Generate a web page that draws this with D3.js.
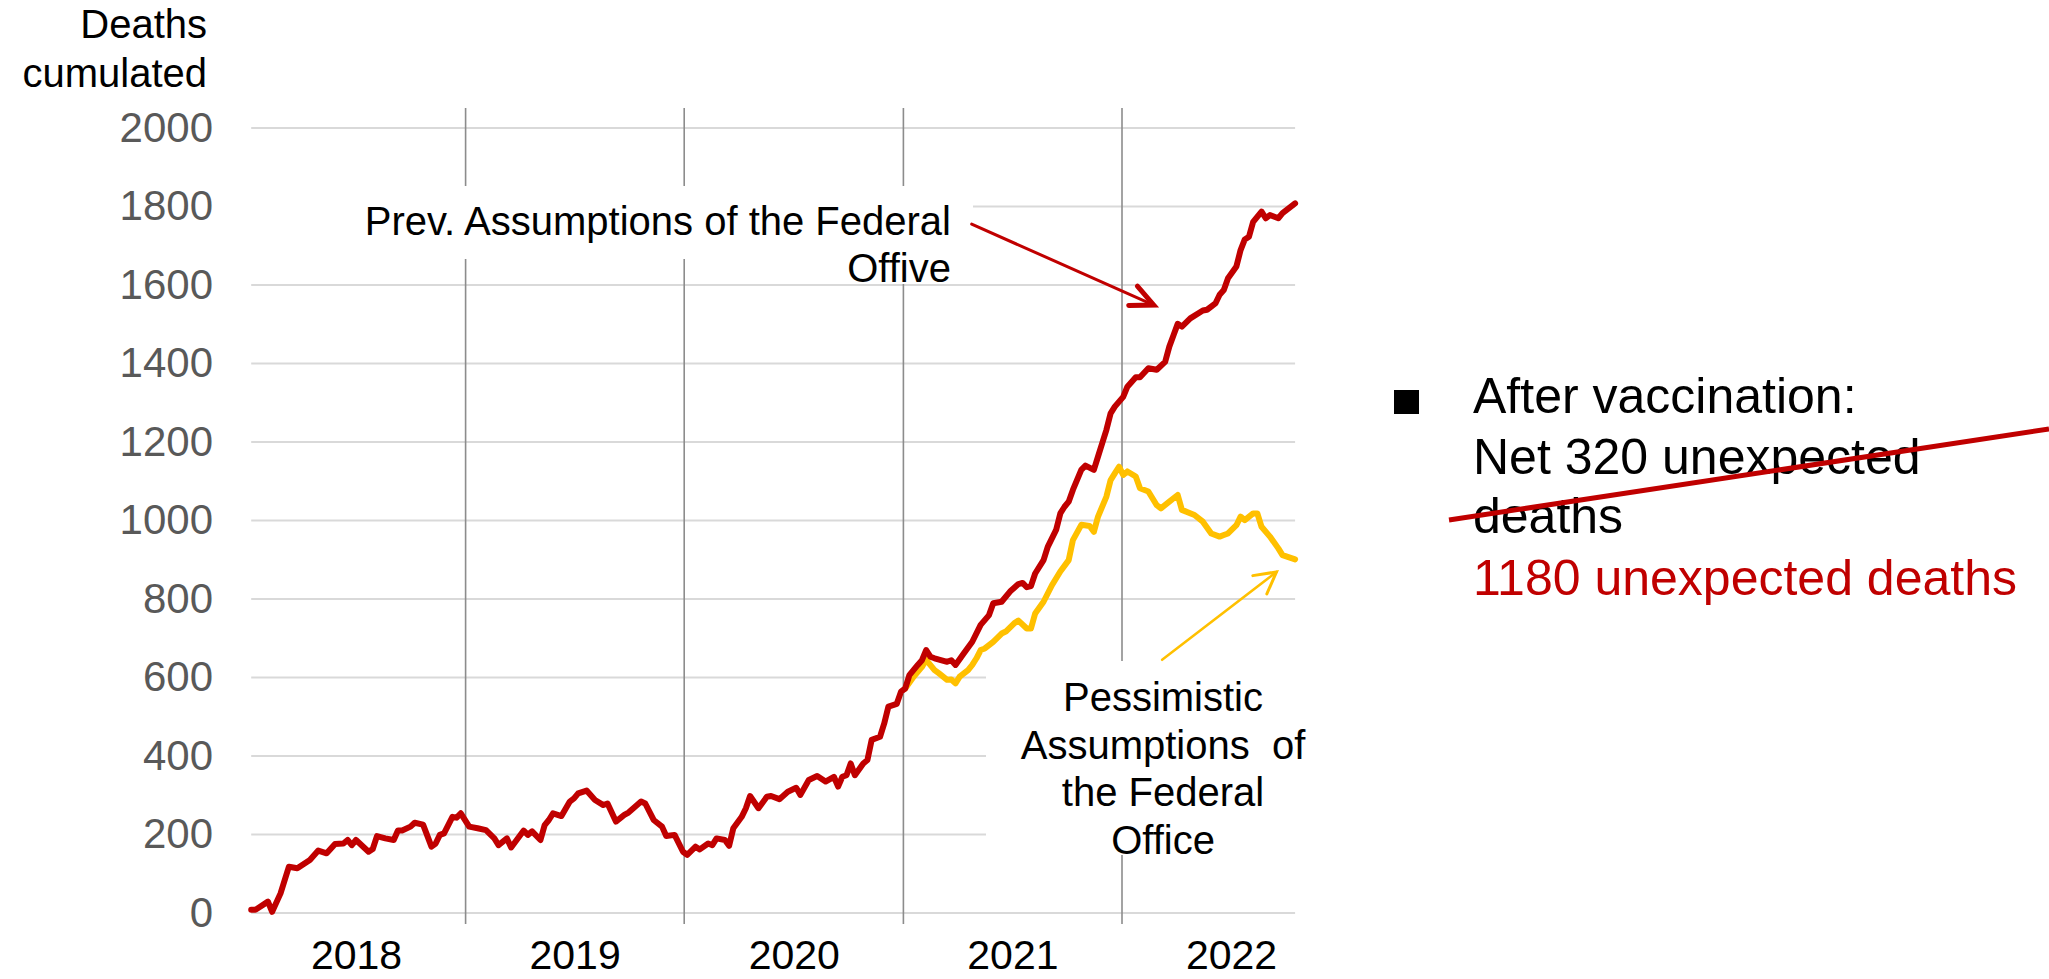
<!DOCTYPE html>
<html>
<head>
<meta charset="utf-8">
<script src="https://cdn.jsdelivr.net/npm/d3@7"></script>
<style>
  body { margin: 0; background: #fff; }
  svg { display: block; font-family: "Liberation Sans", Arial, sans-serif; }
</style>
</head>
<body>
<svg id="chart" width="2049" height="979"></svg>
<script>
// week numbers counted from Mon 2018-01-01, cumulated deaths
var prevWeeks = [1,2,5,6,8,10,12,15,17,19,21,23,24,25,26,29,30,31,33,35,36,37,39,40,42,44,45,46,47,49,50,51,53,55,57,59,60,62,63,66,67,68,70,71,72,73,75,77,78,79,81,83,85,86,88,90,91,94,95,97,99,100,102,104,105,107,108,110,111,112,114,115,116,118,119,120,122,124,125,127,129,131,132,134,136,138,140,141,142,143,144,145,147,148,149,151,152,153,155,156,157,158,160,161,162,163,164,167,168,169,171,173,175,177,178,180,182,184,185,186,187,188,190,191,193,194,195,196,197,199,200,202,203,204,205,206,207,209,210,212,213,215,217,219,220,221,222,223,225,228,229,231,232,233,234,236,237,238,239,240,242,243,244,246,247,250];
var prevDeaths = [8,8,29,3,50,118,114,135,159,152,176,177,186,173,186,156,163,196,190,186,210,210,220,230,225,169,177,199,203,245,243,254,220,216,211,190,173,190,167,210,199,208,186,224,237,254,247,284,292,305,312,288,275,279,233,250,256,284,279,237,220,196,199,156,148,169,162,177,173,190,186,171,216,245,267,298,267,296,298,290,309,319,301,339,349,335,347,322,347,351,381,351,381,390,441,449,483,526,533,564,572,606,632,644,670,653,649,640,644,632,662,691,734,759,789,793,819,838,841,830,833,865,899,933,976,1018,1035,1048,1078,1129,1140,1129,1163,1197,1231,1273,1290,1315,1341,1365,1365,1388,1384,1404,1443,1472,1501,1494,1515,1535,1537,1553,1575,1587,1617,1647,1689,1716,1723,1761,1787,1770,1778,1770,1783,1808];

var pessWeeks = [157,159,161,162,164,165,167,168,169,170,172,173,174,175,176,178,180,181,183,184,186,187,188,190,191,192,194,196,197,199,201,202,203,205,206,207,208,209,210,212,213,215,217,218,220,222,223,226,228,230,232,233,234,236,237,238,240,241,242,244,246,247,250];
var pessDeaths = [572,602,627,645,619,611,594,595,585,602,619,632,649,670,674,691,712,717,738,745,725,725,763,793,814,835,870,899,950,989,986,971,1010,1061,1103,1120,1137,1116,1125,1112,1082,1074,1039,1031,1048,1065,1027,1014,997,967,959,963,967,988,1010,1001,1018,1018,984,959,929,912,901];

var yearLabels = [2018, 2019, 2020, 2021, 2022];
var yearBreaks = [2019, 2020, 2021, 2022];
var yTicks = [0, 200, 400, 600, 800, 1000, 1200, 1400, 1600, 1800, 2000];

var RED = "#C00000", YELLOW = "#FFC000";
var start = new Date(2018, 0, 1);
function weekDate(w) { return d3.timeDay.offset(start, w * 7); }

var svg = d3.select("#chart");

var x = d3.scaleTime()
  .domain([new Date(2018, 0, 1), new Date(2022, 0, 1)])
  .range([247, 1122]);
var y = d3.scaleLinear()
  .domain([0, 2000])
  .range([913, 128]);

var x0 = x(weekDate(prevWeeks[0])), x1 = x(weekDate(prevWeeks[prevWeeks.length - 1]));

// horizontal grid
svg.append("g").selectAll("line")
  .data(yTicks)
  .enter().append("line")
  .attr("x1", x0).attr("x2", x1)
  .attr("y1", d => y(d)).attr("y2", d => y(d))
  .attr("stroke", "#D9D9D9").attr("stroke-width", 2);

// year separators
svg.append("g").selectAll("line")
  .data(yearBreaks)
  .enter().append("line")
  .attr("x1", d => x(new Date(d, 0, 1))).attr("x2", d => x(new Date(d, 0, 1)))
  .attr("y1", 108).attr("y2", 924)
  .attr("stroke", "#8C8C8C").attr("stroke-width", 1.6);

// white text boxes hiding the grid behind the annotations
svg.append("rect").attr("x", 240).attr("y", 186).attr("width", 733).attr("height", 73).attr("fill", "#fff");
svg.append("rect").attr("x", 850).attr("y", 259).attr("width", 123).attr("height", 25).attr("fill", "#fff");
svg.append("rect").attr("x", 986).attr("y", 661).attr("width", 330).attr("height", 194).attr("fill", "#fff");

// y axis labels
var yAxis = svg.append("g")
  .attr("transform", "translate(213,0)")
  .call(d3.axisLeft(y).tickValues(yTicks).tickFormat(d3.format("d")).tickSize(0).tickPadding(0));
yAxis.select(".domain").remove();
yAxis.attr("font-family", null).attr("font-size", null);
yAxis.selectAll("text").attr("font-size", 42).attr("fill", "#595959");

// x axis labels (centered in each year)
var xAxis = svg.append("g")
  .attr("transform", "translate(0,940)")
  .call(d3.axisBottom(x)
    .tickValues(yearLabels.map(d => new Date(d, 6, 2)))
    .tickFormat(d3.timeFormat("%Y"))
    .tickSize(0).tickPadding(0));
xAxis.select(".domain").remove();
xAxis.attr("font-family", null).attr("font-size", null);
xAxis.selectAll("text").attr("font-size", 41).attr("fill", "#000");

// axis title
var title = svg.append("text").attr("text-anchor", "end").attr("font-size", 40).attr("fill", "#000");
title.append("tspan").attr("x", 207).attr("y", 38).text("Deaths");
title.append("tspan").attr("x", 207).attr("y", 87).text("cumulated");

// series
var line = d3.line()
  .x(d => x(weekDate(d.w)))
  .y(d => y(d.v));

var pess = pessWeeks.map((w, i) => ({ w: w, v: pessDeaths[i] }));
var prev = prevWeeks.map((w, i) => ({ w: w, v: prevDeaths[i] }));

svg.append("path").datum(pess)
  .attr("d", line)
  .attr("fill", "none").attr("stroke", YELLOW)
  .attr("stroke-width", 6).attr("stroke-linejoin", "round").attr("stroke-linecap", "round");

svg.append("path").datum(prev)
  .attr("d", line)
  .attr("fill", "none").attr("stroke", RED)
  .attr("stroke-width", 6).attr("stroke-linejoin", "round").attr("stroke-linecap", "round");

// annotation arrows, anchored in data units
function arrow(from, to, color, w, headW, headLen, spread) {
  var ax = x(weekDate(from[0])), ay = y(from[1]);
  var bx = x(weekDate(to[0])), by = y(to[1]);
  var ang = Math.atan2(ay - by, ax - bx);
  var g = svg.append("g").attr("stroke", color).attr("fill", "none").attr("stroke-linecap", "round");
  g.append("line").attr("x1", ax).attr("y1", ay).attr("x2", bx).attr("y2", by).attr("stroke-width", w);
  var p = d3.path();
  p.moveTo(bx + headLen * Math.cos(ang + spread), by + headLen * Math.sin(ang + spread));
  p.lineTo(bx, by);
  p.lineTo(bx + headLen * Math.cos(ang - spread), by + headLen * Math.sin(ang - spread));
  g.append("path").attr("d", p.toString()).attr("stroke-width", headW).attr("stroke-linejoin", "miter");
}
arrow([172.9, 1755], [216.3, 1549], RED, 3, 5, 25, 0.44);
arrow([218.3, 645], [245.7, 869], YELLOW, 2.5, 3, 24, 0.5);

// annotation texts
var t1 = svg.append("text").attr("text-anchor", "end").attr("font-size", 40).attr("fill", "#000");
t1.append("tspan").attr("x", 951).attr("y", 235).text("Prev. Assumptions of the Federal");
t1.append("tspan").attr("x", 951).attr("y", 282).text("Offive");

var pessLines = ["Pessimistic", "Assumptions  of", "the Federal", "Office"];
svg.append("text").attr("text-anchor", "middle").attr("font-size", 40).attr("fill", "#000")
  .style("white-space", "pre")
  .selectAll("tspan").data(pessLines).enter().append("tspan")
  .attr("x", 1163).attr("y", (d, i) => 711 + i * 47.5)
  .text(d => d);

// side note
svg.append("rect").attr("x", 1394).attr("y", 390).attr("width", 25).attr("height", 24).attr("fill", "#000");
var noteLines = [
  { t: "After vaccination:", c: "#000" },
  { t: "Net 320 unexpected", c: "#000" },
  { t: "deaths", c: "#000" },
  { t: "1180 unexpected deaths", c: RED }
];
svg.append("g").selectAll("text").data(noteLines).enter().append("text")
  .attr("x", 1473).attr("y", (d, i) => [413, 474, 533, 595][i])
  .attr("font-size", 50).attr("fill", d => d.c)
  .text(d => d.t);

svg.append("line")
  .attr("x1", 1449).attr("y1", 520).attr("x2", 2049).attr("y2", 429)
  .attr("stroke", RED).attr("stroke-width", 5);
</script>
</body>
</html>
